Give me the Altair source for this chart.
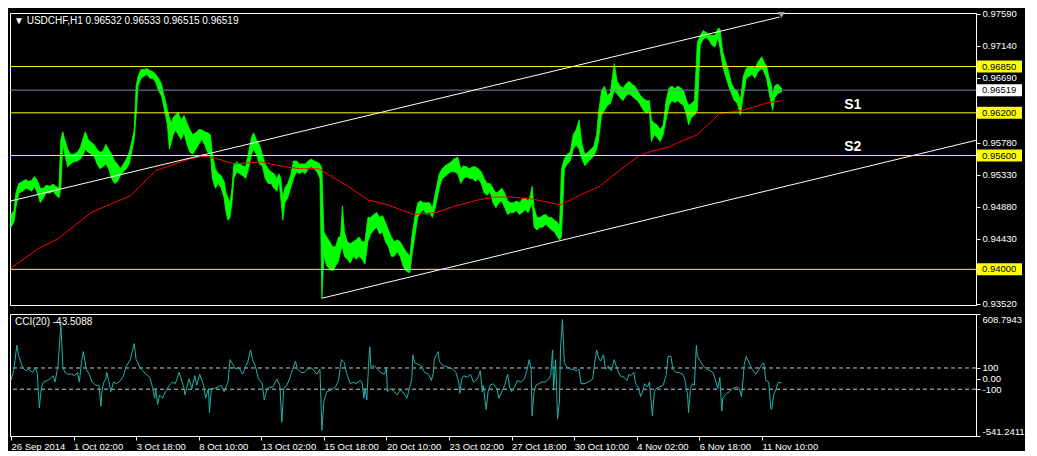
import altair as alt
import pandas as pd

FONT = "Liberation Sans"
FS = 9.5
FS_T = 10
W = 966
H_MAIN = 292
H_CCI = 122

# ---------------- data (H1 bar index from the left edge of the chart) ----------------
price_bar = [0, 3, 5, 8, 12, 15, 18, 21, 24, 27,
             30, 33, 36, 40, 43, 46, 49, 51, 53, 55,
             58, 61, 64, 68, 71, 74, 76, 79, 82, 85,
             88, 91, 94, 97, 100, 103, 106, 109, 112, 115,
             118, 121, 124, 126, 128, 130, 133, 136, 139, 142,
             145, 148, 151, 154, 156, 158, 160, 162, 164, 166,
             168, 171, 174, 177, 180, 183, 186, 189, 192, 195,
             198, 201, 204, 206, 209, 212, 215, 218, 220, 222,
             224, 226, 228, 231, 234, 237, 240, 243, 246, 248,
             251, 254, 257, 260, 263, 266, 269, 272, 274, 276,
             278, 280, 283, 286, 289, 292, 295, 298, 301, 304,
             307, 310, 313, 316, 318, 320, 323, 326, 329, 332,
             335, 337, 339, 341, 344, 347, 350, 353, 356, 359,
             362, 365, 368, 371, 374, 377, 380, 383, 386, 389,
             392, 395, 398, 401, 404, 408, 410, 413, 416, 419,
             422, 425, 428, 431, 434, 436, 438, 441, 444, 447,
             450, 453, 457, 460, 463, 466, 469, 472, 475, 478,
             481, 484, 487, 490, 493, 496, 499, 502, 505, 508,
             511, 514, 517, 520, 523, 526, 529, 531, 533, 535,
             538, 541, 544, 547, 550, 553, 556, 559, 561, 563,
             566, 569, 572, 575, 578, 581, 584, 587, 590, 593,
             596, 599, 601, 604, 607, 610, 613, 617, 620, 623,
             626, 629, 632, 635, 638, 641, 644, 647, 650, 653,
             655, 658, 661, 664, 667, 670, 673, 676, 679, 682,
             685, 688, 691, 693, 696, 699, 702, 705, 708, 711,
             714, 717, 720, 723, 725, 728, 731, 734, 737, 740,
             743, 746, 749, 752, 755, 758, 761, 764, 768, 770,
             773, 775, 778, 779, 781, 784, 786, 788]

price_low = [0.94593, 0.94661, 0.94867, 0.95072, 0.95099, 0.95140, 0.95126, 0.95099, 0.95167, 0.95072,
             0.94935, 0.95003, 0.95072, 0.95072, 0.95099, 0.95044, 0.95003, 0.95140, 0.95756, 0.95619,
             0.95441, 0.95482, 0.95510, 0.95523, 0.95551, 0.95619, 0.95687, 0.95646, 0.95619, 0.95592,
             0.95482, 0.95414, 0.95441, 0.95482, 0.95414, 0.95277, 0.95208, 0.95236, 0.95318, 0.95373,
             0.95414, 0.95482, 0.95687, 0.95824, 0.96166, 0.96576, 0.96686, 0.96713, 0.96741, 0.96686,
             0.96686, 0.96631, 0.96508, 0.96440, 0.96303, 0.96166, 0.96029, 0.95687, 0.95783, 0.95892,
             0.95961, 0.95892, 0.95824, 0.95920, 0.95756, 0.95646, 0.95619, 0.95687, 0.95756, 0.95824,
             0.95756, 0.95646, 0.95619, 0.95277, 0.95140, 0.95208, 0.95140, 0.95003, 0.94798, 0.94689,
             0.94730, 0.94935, 0.95277, 0.95373, 0.95345, 0.95318, 0.95277, 0.95414, 0.95619, 0.95687,
             0.95619, 0.95482, 0.95455, 0.95277, 0.95208, 0.95208, 0.95140, 0.95099, 0.95236, 0.95003,
             0.94689, 0.94935, 0.95003, 0.95140, 0.95277, 0.95373, 0.95345, 0.95373, 0.95345, 0.95414,
             0.95441, 0.95414, 0.95373, 0.95277, 0.93594, 0.94183, 0.94046, 0.94005, 0.93977, 0.94046,
             0.94114, 0.94251, 0.94319, 0.94183, 0.94142, 0.94087, 0.94183, 0.94142, 0.94183, 0.94142,
             0.94073, 0.94388, 0.94497, 0.94552, 0.94593, 0.94497, 0.94524, 0.94388, 0.94319, 0.94183,
             0.94183, 0.94251, 0.94183, 0.94046, 0.93977, 0.93950, 0.94183, 0.94456, 0.94730, 0.94798,
             0.94839, 0.94771, 0.94798, 0.94730, 0.94867, 0.95003, 0.95140, 0.95277, 0.95304, 0.95345,
             0.95373, 0.95373, 0.95345, 0.95208, 0.95277, 0.95304, 0.95277, 0.95277, 0.95236, 0.95277,
             0.95208, 0.95072, 0.95044, 0.95099, 0.94935, 0.94867, 0.94935, 0.94962, 0.94867, 0.94771,
             0.94798, 0.94798, 0.94825, 0.94771, 0.94798, 0.94839, 0.94798, 0.94867, 0.94935, 0.94593,
             0.94552, 0.94593, 0.94593, 0.94634, 0.94593, 0.94552, 0.94524, 0.94456, 0.94415, 0.94456,
             0.95414, 0.95482, 0.95523, 0.95687, 0.95756, 0.95687, 0.95551, 0.95455, 0.95510, 0.95551,
             0.95592, 0.95687, 0.95824, 0.96166, 0.96234, 0.96303, 0.96330, 0.96508, 0.96467, 0.96412,
             0.96371, 0.96440, 0.96467, 0.96440, 0.96399, 0.96371, 0.96303, 0.96234, 0.96193, 0.96234,
             0.95797, 0.95892, 0.95851, 0.95797, 0.95892, 0.96098, 0.96303, 0.96371, 0.96344, 0.96371,
             0.96330, 0.96303, 0.96166, 0.96029, 0.96139, 0.96166, 0.96234, 0.97151, 0.97233, 0.97260,
             0.97219, 0.97151, 0.97124, 0.97260, 0.97124, 0.96850, 0.96713, 0.96576, 0.96467, 0.96371,
             0.96330, 0.96166, 0.96440, 0.96686, 0.96713, 0.96741, 0.96686, 0.96782, 0.96823, 0.96782,
             0.96672, 0.96508, 0.96303, 0.96234, 0.96412, 0.96467, 0.96481, 0.96494]

price_high = [0.94771, 0.94825, 0.95072, 0.95208, 0.95236, 0.95263, 0.95236, 0.95249, 0.95304, 0.95249,
              0.95140, 0.95140, 0.95181, 0.95167, 0.95195, 0.95167, 0.95140, 0.95824, 0.95934, 0.95824,
              0.95687, 0.95619, 0.95619, 0.95646, 0.95715, 0.95851, 0.95934, 0.95824, 0.95783, 0.95756,
              0.95687, 0.95646, 0.95660, 0.95756, 0.95687, 0.95619, 0.95523, 0.95482, 0.95414, 0.95482,
              0.95551, 0.95646, 0.95824, 0.95961, 0.96576, 0.96713, 0.96809, 0.96809, 0.96823, 0.96795,
              0.96782, 0.96741, 0.96686, 0.96604, 0.96467, 0.96371, 0.96234, 0.96139, 0.96057, 0.96139,
              0.96166, 0.96207, 0.96098, 0.96166, 0.96057, 0.95961, 0.95892, 0.95920, 0.95961, 0.95961,
              0.95934, 0.95920, 0.95892, 0.95619, 0.95414, 0.95345, 0.95318, 0.95236, 0.95072, 0.95003,
              0.94935, 0.95140, 0.95482, 0.95510, 0.95482, 0.95455, 0.95441, 0.95646, 0.95851, 0.95920,
              0.95824, 0.95756, 0.95619, 0.95482, 0.95414, 0.95373, 0.95345, 0.95277, 0.95345, 0.95277,
              0.95003, 0.95140, 0.95208, 0.95318, 0.95523, 0.95523, 0.95482, 0.95482, 0.95482, 0.95523,
              0.95551, 0.95523, 0.95510, 0.95482, 0.95414, 0.94524, 0.94456, 0.94388, 0.94319, 0.94319,
              0.94456, 0.94456, 0.94894, 0.94524, 0.94388, 0.94360, 0.94388, 0.94415, 0.94456, 0.94388,
              0.94388, 0.94730, 0.94730, 0.94771, 0.94798, 0.94730, 0.94757, 0.94661, 0.94552, 0.94456,
              0.94388, 0.94415, 0.94388, 0.94319, 0.94251, 0.94183, 0.94456, 0.94730, 0.94935, 0.94962,
              0.94935, 0.94935, 0.94935, 0.94867, 0.95072, 0.95208, 0.95345, 0.95414, 0.95455, 0.95482,
              0.95510, 0.95551, 0.95578, 0.95414, 0.95455, 0.95441, 0.95414, 0.95441, 0.95441, 0.95414,
              0.95373, 0.95277, 0.95208, 0.95208, 0.95140, 0.95072, 0.95099, 0.95140, 0.95072, 0.94962,
              0.94935, 0.94935, 0.94962, 0.94935, 0.94990, 0.95003, 0.94962, 0.95031, 0.95167, 0.94867,
              0.94730, 0.94730, 0.94757, 0.94771, 0.94730, 0.94730, 0.94689, 0.94661, 0.94593, 0.95414,
              0.95551, 0.95619, 0.95646, 0.95892, 0.95961, 0.96098, 0.95756, 0.95619, 0.95646, 0.95687,
              0.95728, 0.95892, 0.96207, 0.96508, 0.96576, 0.96440, 0.96481, 0.96891, 0.96645, 0.96576,
              0.96549, 0.96604, 0.96645, 0.96604, 0.96576, 0.96508, 0.96440, 0.96399, 0.96371, 0.96371,
              0.96098, 0.96057, 0.96029, 0.95961, 0.96029, 0.96371, 0.96549, 0.96576, 0.96535, 0.96576,
              0.96549, 0.96508, 0.96371, 0.96303, 0.96330, 0.96371, 0.97192, 0.97288, 0.97356, 0.97329,
              0.97301, 0.97288, 0.97288, 0.97384, 0.97384, 0.97055, 0.96918, 0.96782, 0.96604, 0.96535,
              0.96508, 0.96371, 0.96713, 0.96823, 0.96850, 0.96850, 0.96823, 0.96918, 0.96987, 0.96918,
              0.96850, 0.96713, 0.96576, 0.96440, 0.96576, 0.96604, 0.96576, 0.96549]

ma_bar = [0, 28, 48, 82, 105, 122, 135, 148, 162, 182,
          198, 212, 228, 255, 275, 295, 315, 328, 345, 365,
          385, 412, 435, 455, 478, 495, 512, 532, 562, 582,
          602, 622, 642, 655, 672, 685, 702, 725, 748, 775, 788]
ma_val = [0.94019, 0.94292, 0.94429, 0.94798, 0.94935, 0.95031, 0.95208, 0.95386, 0.95455, 0.95551,
          0.95592, 0.95551, 0.95482, 0.95510, 0.95455, 0.95414, 0.95414, 0.95304, 0.95167, 0.94976,
          0.94908, 0.94771, 0.94798, 0.94894, 0.94976, 0.95017, 0.95017, 0.94990, 0.94908, 0.95044,
          0.95167, 0.95386, 0.95592, 0.95660, 0.95715, 0.95797, 0.95892, 0.96193, 0.96234, 0.96344, 0.96371]

cci_bar = [0, 3, 6, 8, 12, 15, 18, 22, 25, 27,
           28, 29, 31, 33, 37, 40, 43, 45, 48, 49,
           51, 52, 53, 55, 58, 62, 65, 68, 70, 72,
           74, 77, 80, 83, 87, 90, 92, 93, 95, 97,
           98, 101, 102, 105, 108, 112, 115, 118, 122, 126,
           128, 132, 135, 138, 142, 145, 147, 148, 150, 152,
           155, 158, 162, 165, 168, 172, 175, 177, 178, 182,
           185, 188, 190, 193, 197, 199, 202, 203, 205, 208,
           212, 215, 218, 222, 224, 227, 230, 233, 237, 240,
           242, 245, 247, 250, 253, 257, 259, 262, 265, 268,
           272, 275, 277, 279, 282, 285, 288, 291, 293, 297,
           300, 303, 307, 310, 313, 316, 318, 320, 323, 327,
           332,
           335, 338, 341, 343, 347, 350, 353, 357, 359, 361,
           362, 364, 366, 367, 368, 372, 375, 378, 382, 384,
           385, 388, 392, 395, 398, 402, 405, 407, 410, 411,
           413, 417, 420, 423, 427, 430, 432, 433, 435, 437,
           438, 442, 445, 448, 452, 455, 458, 459, 461, 463,
           467, 470, 473, 477, 480, 482, 483, 486, 488, 490,
           493, 497, 499, 502, 505, 508, 510, 512, 515, 518,
           522, 525, 528, 530, 532, 533, 535, 537, 540, 543,
           547, 550, 552, 554, 555, 557, 558, 559, 561, 562,
           564, 566, 568, 572, 575, 578, 581, 583, 587, 590,
           593, 595, 597, 599, 601, 603, 606, 608, 611, 614,
           617, 620, 623, 627, 630, 632, 634, 637, 639, 642,
           644, 647, 648, 651, 653, 656, 658, 660, 663, 667,
           670, 672,
           675, 677, 680, 683, 687, 689, 692, 693, 695, 697,
           699, 701, 702, 705, 708, 712, 715, 718, 722, 723,
           725, 727, 728, 732, 735, 738, 742, 745, 747, 748,
           750, 752, 755, 758, 762, 765, 768, 770, 772, 775,
           777, 778, 780, 782, 785, 788]
cci_val = [-18, 88, 315, 209, 103, 73, 88, 58, 103, 42,
           -124, -276, -94, -33, -18, -3, 27, -33, 118, 239,
           512, 330, 118, 58, 42, 42, 27, 58, -33, 148,
           255, 88, 42, -33, -64, -64, -261, -124, -33, -3,
           58, -64, -124, -33, -48, -18, 27, 118, 179, 330,
           179, 103, 73, 42, 12, -94, -185, -94, -245, -155,
           -185, -124, -64, -33, -48, 58, -33, -94, -155, -3,
           -94, 27, -64, 42, -64, -185, -94, -321, -94, -94,
           -79, -64, -124, -33, 179, 133, 88, 103, 42, 118,
           148, 270, 179, 118, -3, -48, -200, -94, -79, -79,
           -3, -64, -412, -94, -64, -3, 88, 164, 88, 58,
           58, 88, 103, 73, 42, 88, -488, -215, -124, -109,
           -79,
           -18, 179, 148, 58, -48, -33, -48, -18, -33, -185,
           -94, -200, 179, 300, 118, 118, 88, 58, 42, 103,
           -124, -94, -124, -155, -109, -139, -185, -109, -3, 224,
           148, 133, 118, 58, 42, -18, 58, 179, 224, 255,
           164, 118, 118, 103, 88, 58, -33, -139, -3, 27,
           12, 42, -33, -3, 73, -124, -64, -291, -124, -64,
           -48, -94, -185, -124, -64, 42, -79, -124, -79, -18,
           -33, -3, 88, 179, 88, -351, -124, -64, -48, -33,
           -33, -3, 27, 270, -109, 179, -64, -382, -215, 270,
           557, 148, 118, 88, 88, 73, 88, -48, -48, -33,
           -18, -3, 148, 270, 194, 164, 224, 88, 118, 73,
           179, 88, 27, 12, -18, 42, 27, 58, -48, -94,
           -170, -94, -48, -79, -33, -351, -124, -94, -79, -64,
           27, 209,
           209, 88, 58, 58, 42, -3, -155, -321, -94, -48,
           -64, 315, 209, 164, 118, 88, 73, 58, -64, -94,
           12, -306, -185, -139, -124, -94, -79, -94, -170, -94,
           133, 209, 148, 88, 42, 88, 133, 148, -18, -33,
           -276, -291, -155, -109, -33, -43.5088]

level_prices = [0.96850, 0.96200, 0.95600, 0.94000]
level_labels = ["0.96850", "0.96200", "0.95600", "0.94000"]
bid_price = [0.96519]
bid_label = ["0.96519"]

channel_name = ["upper", "upper", "lower", "lower"]
channel_bar = [0, 786, 318, 987]
channel_price = [0.94962, 0.97546, 0.93594, 0.95814]

support_names = ["S1", "S2"]
support_bar = [861, 861]
support_price = [0.96303, 0.95715]

price_ticks = [0.97590, 0.97140, 0.96690, 0.95780, 0.95330, 0.94880, 0.94430, 0.93520]
cci_ticks = [608.7943, 100, 0, -100, -541.2411]
cci_tick_labels = ["608.7943", "100", "0.00", "-100", "-541.2411"]
cci_levels = [100, -100]

date_tick_bars = [0, 64, 128, 192, 256, 320, 384, 448, 512, 576, 640, 704, 768]
date_tick_labels = ["26 Sep 2014", "1 Oct 02:00", "3 Oct 18:00", "8 Oct 10:00", "13 Oct 02:00",
                    "15 Oct 18:00", "20 Oct 10:00", "23 Oct 02:00", "27 Oct 18:00", "30 Oct 10:00",
                    "4 Nov 02:00", "6 Nov 18:00", "11 Nov 10:00"]

title_text = "\u25BC USDCHF,H1  0.96532 0.96533 0.96515 0.96519"
cci_title = "CCI(20) -43.5088"
shift_marker_bar = [788]

# ---------------- frames ----------------
price_df = pd.DataFrame({"bar": price_bar, "low": price_low, "high": price_high})
ma_df = pd.DataFrame({"bar": ma_bar, "ma": ma_val})
cci_df = pd.DataFrame({"bar": cci_bar, "cci": cci_val})
levels_df = pd.DataFrame({"price": level_prices, "label": level_labels})
bid_df = pd.DataFrame({"price": bid_price, "label": bid_label})
chan_df = pd.DataFrame({"line": channel_name, "bar": channel_bar, "price": channel_price})
sup_df = pd.DataFrame({"name": support_names, "bar": support_bar, "price": support_price})
cci_lv_df = pd.DataFrame({"lvl": cci_levels})
marker_df = pd.DataFrame({"bar": shift_marker_bar})

xs = alt.Scale(domain=[-1, 987], nice=False, zero=False)
ys = alt.Scale(domain=[0.93499, 0.97603], nice=False, zero=False)
cs = alt.Scale(domain=[-541.2411, 608.7943], nice=False, zero=False)

price_axis = alt.Axis(orient="right", values=price_ticks, format=".5f", title=None, grid=False,
                      labelColor="white", labelFont=FONT, labelFontSize=FS, tickColor="white",
                      tickSize=4, domainColor="white", labelPadding=2)


def PY(field):
    return alt.Y(field, scale=ys, axis=price_axis)


XN = alt.X("bar:Q", scale=xs, axis=None)

band = alt.Chart(price_df).mark_area(color="#00FF00", stroke="#00FF00", strokeWidth=0.8,
                                     interpolate="linear").encode(
    x=XN, y=PY("low:Q"), y2="high:Q")
ma = alt.Chart(ma_df).mark_line(color="#FF0000", strokeWidth=1).encode(x=XN, y=PY("ma:Q"))
lev = alt.Chart(levels_df).mark_rule(color="#FFFF00", strokeWidth=1).encode(y=PY("price:Q"))
bid = alt.Chart(bid_df).mark_rule(color="#778899", strokeWidth=1).encode(y=PY("price:Q"))
chan = alt.Chart(chan_df).mark_line(color="white", strokeWidth=1, clip=True).encode(
    x=XN, y=PY("price:Q"), detail="line:N")
sup = alt.Chart(sup_df).mark_text(color="white", font=FONT, fontSize=14, fontWeight="bold",
                                  align="center", baseline="middle").encode(
    x=XN, y=PY("price:Q"), text="name:N")
lev_box = alt.Chart(levels_df).mark_rect(color="#FFFF00", yOffset=-6, y2Offset=6).encode(
    x=alt.value(W + 1), x2=alt.value(W + 46), y=PY("price:Q"), y2="price:Q")
lev_txt = alt.Chart(levels_df).mark_text(color="black", font=FONT, fontSize=FS, align="left",
                                         baseline="middle").encode(
    x=alt.value(W + 6), y=PY("price:Q"), text="label:N")
bid_box = alt.Chart(bid_df).mark_rect(color="white", yOffset=-6, y2Offset=6).encode(
    x=alt.value(W + 1), x2=alt.value(W + 46), y=PY("price:Q"), y2="price:Q")
bid_txt = alt.Chart(bid_df).mark_text(color="black", font=FONT, fontSize=FS, align="left",
                                      baseline="middle").encode(
    x=alt.value(W + 6), y=PY("price:Q"), text="label:N")
title = alt.Chart(pd.DataFrame({"t": [title_text]})).mark_text(
    color="white", font=FONT, fontSize=FS_T, align="left", baseline="middle").encode(
    x=alt.value(4), y=alt.value(8), text="t:N")
marker = alt.Chart(marker_df).mark_point(shape="triangle-down", filled=True, color="#9AA4AE",
                                         size=45, opacity=1).encode(x=XN, y=alt.value(2))

main = alt.layer(band, ma, lev, bid, chan, sup, lev_box, lev_txt, bid_box, bid_txt, title,
                 marker).properties(width=W, height=H_MAIN)

cci_expr = " : ".join(f"datum.value == {v} ? '{l}'" for v, l in zip(cci_ticks, cci_tick_labels)) + " : ''"
cci_axis = alt.Axis(orient="right", values=cci_ticks, labelExpr=cci_expr, title=None, grid=False,
                    labelColor="white", labelFont=FONT, labelFontSize=FS, tickColor="white",
                    tickSize=4, domainColor="white", labelPadding=2, labelFlush=True)

bars_arr = "[" + ",".join(str(b) for b in date_tick_bars) + "]"
labs_arr = "[" + ",".join(f"'{s}'" for s in date_tick_labels) + "]"
x_axis = alt.Axis(values=date_tick_bars, labelExpr=f"{labs_arr}[indexof({bars_arr}, datum.value)]",
                  title=None, grid=False, labelAlign="left", labelColor="white", labelFont=FONT,
                  labelFontSize=FS, tickColor="white", tickSize=4, domainColor="white",
                  labelPadding=1, labelOverlap=False, labelFlush=False, labelBound=False)

cci_line = alt.Chart(cci_df).mark_line(color="#20B2AA", strokeWidth=1).encode(
    x=alt.X("bar:Q", scale=xs, axis=x_axis), y=alt.Y("cci:Q", scale=cs, axis=cci_axis))
cci_rules = alt.Chart(cci_lv_df).mark_rule(color="#C8C8C8", strokeDash=[4, 3], strokeWidth=1).encode(
    y=alt.Y("lvl:Q", scale=cs, axis=cci_axis))
cci_lab = alt.Chart(pd.DataFrame({"t": [cci_title]})).mark_text(
    color="white", font=FONT, fontSize=FS_T, align="left", baseline="middle").encode(
    x=alt.value(5), y=alt.value(8), text="t:N")

cci = alt.layer(cci_rules, cci_line, cci_lab).properties(width=W, height=H_CCI)

chart = alt.vconcat(main, cci, spacing=4).properties(
    padding=0, background="black"
).configure_view(stroke="white", strokeWidth=1)

chart.save("out.html", embed_options={"renderer": "svg", "actions": False})
